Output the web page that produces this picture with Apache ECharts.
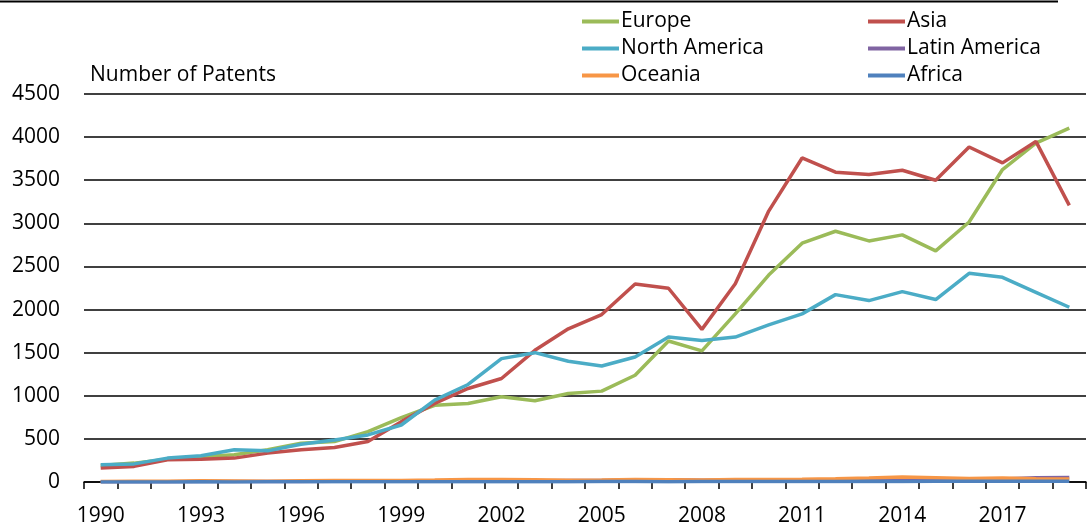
<!DOCTYPE html>
<html>
<head>
<meta charset="utf-8">
<script src="https://cdn.jsdelivr.net/npm/echarts@6/dist/echarts.min.js"></script>
<style>
  html, body { margin: 0; padding: 0; background: #fff; }
  #chart { width: 1089px; height: 527px; }
</style>
</head>
<body>
<div id="chart"></div>
<script>
// years on the x axis
const years = [];
for (let y = 1990; y <= 2019; y++) years.push(String(y));

// patents per region
const europe = [190, 219, 265, 294, 315, 373, 450, 469, 585, 746, 890, 910, 989, 943, 1027, 1054, 1238, 1635, 1520, 1950, 2400, 2770, 2908, 2796, 2866, 2681, 3016, 3624, 3931, 4105];
const asia = [162, 181, 258, 265, 277, 335, 373, 400, 469, 700, 912, 1085, 1200, 1527, 1777, 1942, 2296, 2247, 1770, 2300, 3142, 3758, 3593, 3566, 3616, 3500, 3885, 3701, 3950, 3208];
const northAmerica = [200, 210, 277, 304, 373, 361, 438, 488, 546, 661, 950, 1131, 1431, 1500, 1400, 1346, 1450, 1681, 1642, 1681, 1823, 1950, 2173, 2104, 2208, 2116, 2420, 2374, 2200, 2027];
const latinAmerica = [2, 3, 4, 5, 5, 6, 6, 8, 8, 10, 12, 14, 15, 14, 16, 18, 22, 25, 20, 20, 22, 24, 26, 25, 28, 26, 30, 35, 50, 52];
const oceania = [5, 8, 10, 14, 12, 10, 14, 18, 16, 18, 22, 28, 30, 26, 20, 22, 28, 26, 24, 28, 30, 32, 38, 46, 58, 50, 40, 45, 38, 35];
const africa = [1, 1, 1, 2, 1, 2, 2, 2, 3, 2, 3, 4, 3, 4, 4, 5, 5, 4, 6, 5, 6, 7, 6, 8, 7, 8, 9, 8, 10, 9];

const yTicks = { min: 0, max: 4500, step: 500 };

const font = "'Open Sans', 'Noto Sans', sans-serif";

let chart = echarts.init(document.getElementById("chart"));

function line(name, data, color) {
  return {
    name: name,
    type: "line",
    data: data,
    symbol: "none",
    smooth: false,
    itemStyle: { color: color },
    lineStyle: { color: color, width: 3.5 }
  };
}

const legendCommon = {
  orient: "vertical",
  top: 3,
  itemGap: 0,
  itemWidth: 37,
  itemHeight: 4,
  icon: "rect",
  textStyle: { fontFamily: font, fontSize: 21, color: "#000", lineHeight: 27, padding: [0, 0, 0, -3] }
};

const option = {
  animation: false,
  textStyle: { fontFamily: font },
  title: {
    text: "Number of Patents",
    left: 85,
    top: 60,
    textStyle: { fontFamily: font, fontSize: 21, fontWeight: "normal", color: "#000" }
  },
  legend: [
    Object.assign({ left: 577, data: ["Europe", "North America", "Oceania"] }, legendCommon),
    Object.assign({ left: 863, data: ["Asia", "Latin America", "Africa"] }, legendCommon)
  ],
  graphic: [
    {
      type: "line",
      shape: { x1: 0, y1: 1.5, x2: 1058, y2: 1.5 },
      style: { stroke: "#000", lineWidth: 2 }
    }
  ],
  grid: { left: 84, right: 3, top: 94, bottom: 43, containLabel: false },
  xAxis: {
    type: "category",
    data: years,
    boundaryGap: true,
    axisLine: { lineStyle: { color: "#000", width: 1.5 } },
    axisTick: { show: true, interval: 0, length: 7, lineStyle: { color: "#000", width: 1.5 } },
    axisLabel: { interval: 2, fontSize: 21, color: "#000", fontFamily: font, margin: 24 },
    splitLine: { show: false }
  },
  yAxis: {
    type: "value",
    min: yTicks.min,
    max: yTicks.max,
    interval: yTicks.step,
    axisLine: { show: false },
    axisTick: { show: false },
    axisLabel: {
      fontSize: 21,
      color: "#000",
      fontFamily: font,
      margin: 24,
      formatter: function(v) { return String(v); }
    },
    splitLine: { lineStyle: { color: "#000", width: 1.5 } }
  },
  series: [
    line("Europe", europe, "#9BBB59"),
    line("Asia", asia, "#C0504D"),
    line("North America", northAmerica, "#4BACC6"),
    line("Latin America", latinAmerica, "#8064A2"),
    line("Oceania", oceania, "#F79646"),
    line("Africa", africa, "#4F81BD")
  ]
};

chart.setOption(option);
window.addEventListener("resize", function() {
  chart.resize();
});
</script>
</body>
</html>
